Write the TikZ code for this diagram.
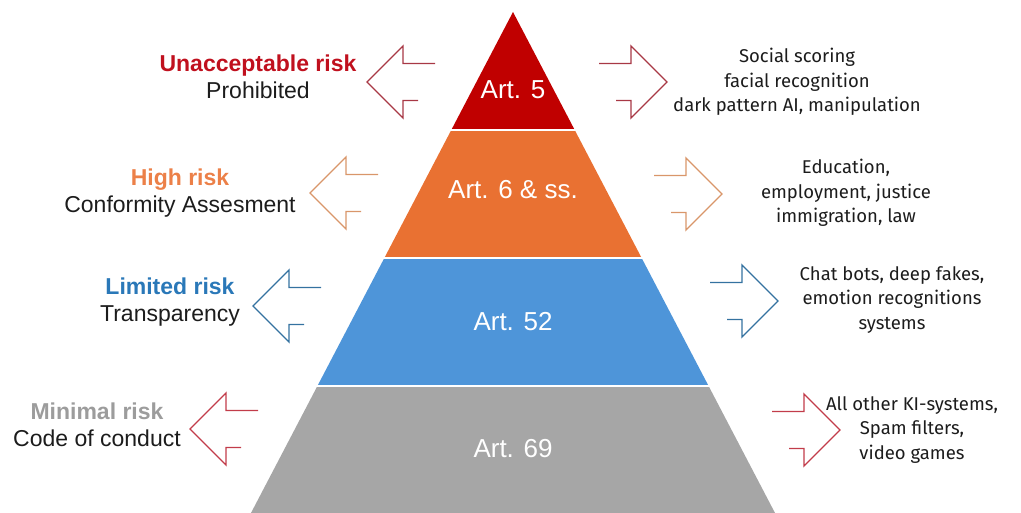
\documentclass[tikz,border=0pt]{standalone}
\usepackage{fontspec}
\setmainfont{Liberation Sans}
\newfontfamily\examplefont{Fira Sans}
\usetikzlibrary{positioning}
\definecolor{artred}{HTML}{C00000}
\definecolor{artorange}{HTML}{E97132}
\definecolor{artblue}{HTML}{4E95D9}
\definecolor{artgray}{HTML}{A6A6A6}
\definecolor{unacc}{HTML}{C0101E}
\definecolor{highc}{HTML}{EC8048}
\definecolor{limc}{HTML}{2A78B8}
\definecolor{minc}{HTML}{9C9C9C}
\definecolor{uarr}{HTML}{A83845}
\definecolor{harr}{HTML}{D9966A}
\definecolor{larr}{HTML}{3472A0}
\definecolor{marr}{HTML}{C23C4A}
\definecolor{ink}{HTML}{1C1C1C}

\tikzset{
  blockarrow/.pic={
    \draw[pic actions] (-68,-18.5) -- (-36,-18.5) -- (-36,-36) -- (0,0)
      -- (-36,36) -- (-36,18.5) -- (-51,18.5);
  },
  levelbox/.style={text=ink, align=center, font=\fontsize{23}{27}\selectfont},
  casebox/.style={text=ink, align=center, font=\examplefont\fontsize{18.5}{24.5}\selectfont},
  artlabel/.style={text=white, font=\fontsize{26}{30}\selectfont},
  outline/.style={line width=1.3pt, line join=miter}
}

\begin{document}
\begin{tikzpicture}[x=1pt, y=-1pt]
  \useasboundingbox (0,0) rectangle (1021,513);

  % pyramid layers, apex at (513,12)
  \foreach \ya/\yb/\col in {12/130/artred, 130/258/artorange, 258/386/artblue, 386/513/artgray}
    \fill[\col] ({513-0.523*(\ya-12)},\ya) -- ({513+0.523*(\ya-12)},\ya)
      -- ({513+0.523*(\yb-12)},\yb) -- ({513-0.523*(\yb-12)},\yb) -- cycle;
  \foreach \ys in {130,258,386}
    \draw[white, line width=2.5pt] ({510-0.523*(\ys-12)},\ys) -- ({516+0.523*(\ys-12)},\ys);

  \node[artlabel] (art5) at (513,90) {Art. 5};
  \node[artlabel] (art6) at (513,190) {Art. 6 \& ss.};
  \node[artlabel] (art52) at (513,322) {Art. 52};
  \node[artlabel] (art69) at (513,449) {Art. 69};

  % risk levels on the left
  \node[levelbox] (unaccrisk) at (258,77) {{\bfseries\color{unacc}Unacceptable risk}\\Prohibited};
  \node[levelbox] (highrisk) at (180,193) {{\bfseries\color{highc}High risk}\\Conformity Assesment};
  \node[levelbox] (limrisk) at (170,302) {{\bfseries\color{limc}Limited risk}\\Transparency};
  \node[levelbox] (minrisk) at (97,425) {{\bfseries\color{minc}Minimal risk}\\Code of conduct};

  % examples on the right
  \node[casebox] (unaccex) at (797,82) {Social scoring\\facial recognition\\dark pattern AI, manipulation};
  \node[casebox] (highex) at (846,193) {Education,\\employment, justice\\immigration, law};
  \node[casebox] (limex) at (892,300) {Chat bots, deep fakes,\\emotion recognitions\\systems};
  \node[casebox] (minex) at (912,430) {All other KI-systems,\\Spam filters,\\video games};

  % outline arrows
  \pic[outline, draw=uarr, xscale=-1] at (367,82) {blockarrow};
  \pic[outline, draw=uarr] at (667,82) {blockarrow};
  \pic[outline, draw=harr, xscale=-1] at (310,193) {blockarrow};
  \pic[outline, draw=harr] at (722,194) {blockarrow};
  \pic[outline, draw=larr, xscale=-1] at (253,306) {blockarrow};
  \pic[outline, draw=larr] at (778,301) {blockarrow};
  \pic[outline, draw=marr, xscale=-1] at (190,429) {blockarrow};
  \pic[outline, draw=marr] at (840,430) {blockarrow};
\end{tikzpicture}
\end{document}
